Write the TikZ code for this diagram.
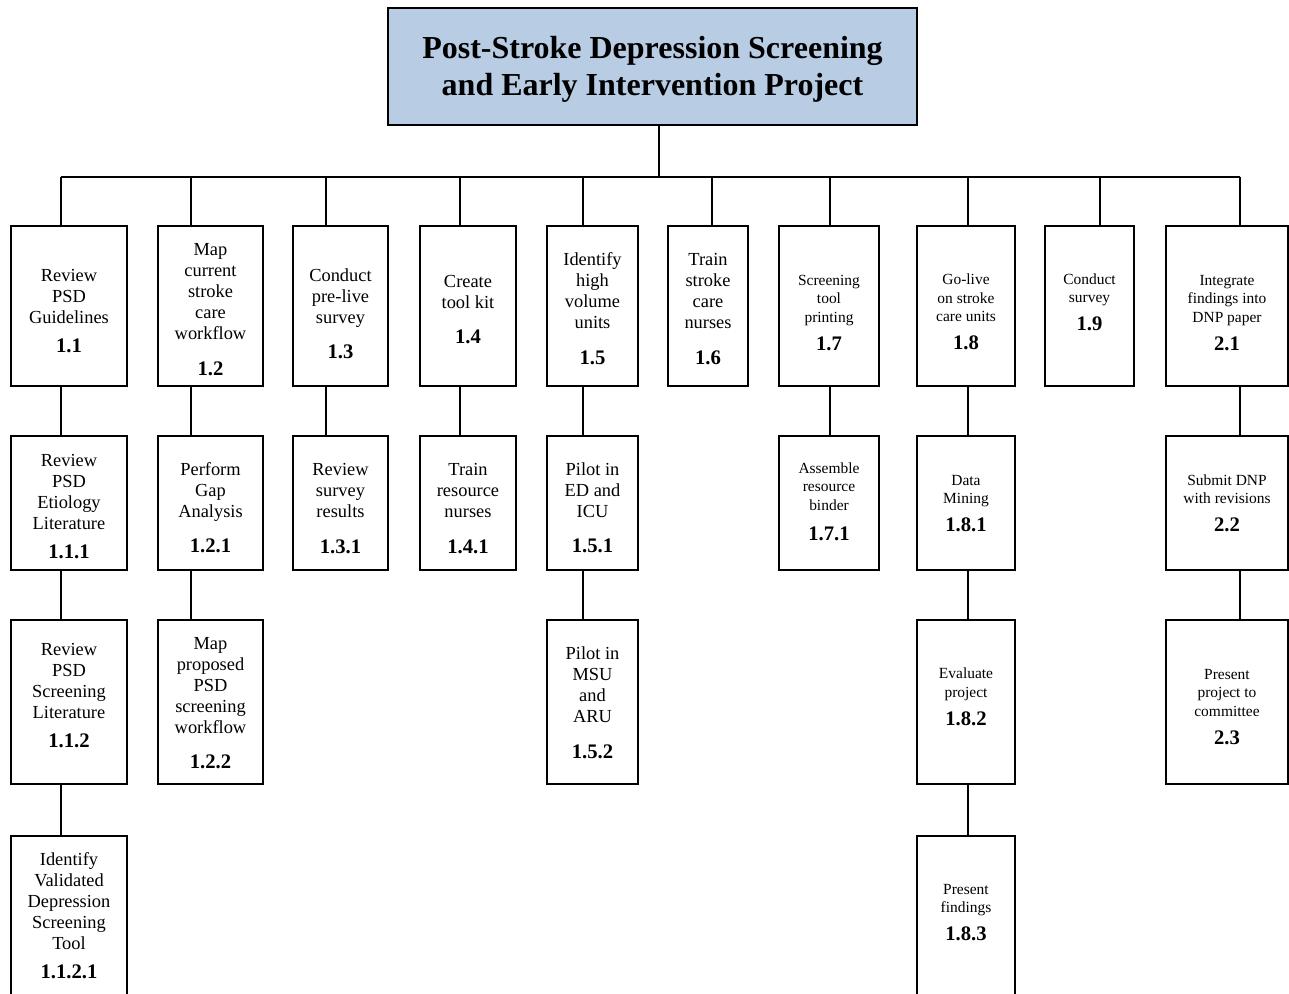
\documentclass[tikz,border=0pt]{standalone}
\usepackage{fontspec}
\setmainfont{Liberation Serif}
\definecolor{titleblue}{HTML}{B8CCE4}
\newdimen\wbspx \wbspx=0.75pt
\newcommand{\wbsnum}[1]{{\fontsize{15.5}{18}\selectfont\bfseries #1}}
\newcommand{\wbs}[2][0]{\raisebox{\dimexpr-0.25em-#1\wbspx\relax}[0pt][0pt]{\begin{tabular}{@{}c@{}}#2\end{tabular}}}

\begin{document}
\begin{tikzpicture}
[x=0.75pt,y=-0.75pt]
\tikzset{
	top/.style = {draw, line width=1.5pt, fill=titleblue, inner sep=0, minimum width=396.75pt, minimum height=87.75pt, font=\fontsize{24}{27.75}\selectfont\bfseries},
	task/.style = {draw, line width=1.5pt, inner sep=0, font=\fontsize{13.8}{15.75}\selectfont},
	small/.style = {task, font=\fontsize{11.6}{13.9}\selectfont},
	open/.style = {draw=none, outer sep=0},
	tier1/.style = {minimum height=120pt},
	tier2/.style = {minimum height=100.5pt},
	tier3/.style = {minimum height=123pt},
	tier4/.style = {minimum height=119.25pt}
}
\useasboundingbox (0,0) rectangle (1289,994);

\node(0) [top] at (652.5,66.5) {\wbs[3]{Post-Stroke Depression Screening\\and Early Intervention Project}};
\coordinate (bar) at (659,177);

\node(1-1) [task, tier1, minimum width=87pt] at (69,306) {\wbs[7.5]{Review\\PSD\\Guidelines\\[6pt]\wbsnum{1.1}}};
\node(1-2) [task, tier1, minimum width=78.75pt] at (210.5,306) {\wbs[5.5]{Map\\current\\stroke\\care\\workflow\\[11pt]\wbsnum{1.2}}};
\node(1-3) [task, tier1, minimum width=71.25pt] at (340.5,306) {\wbs[10]{Conduct\\pre-live\\survey\\[11pt]\wbsnum{1.3}}};
\node(1-4) [task, tier1, minimum width=72pt] at (468,306) {\wbs[5.5]{Create\\tool kit\\[11pt]\wbsnum{1.4}}};
\node(1-5) [task, tier1, minimum width=68.25pt] at (592.5,306) {\wbs[5]{Identify\\high\\volume\\units\\[11pt]\wbsnum{1.5}}};
\node(1-6) [task, tier1, minimum width=60pt] at (708,306) {\wbs[5]{Train\\stroke\\care\\nurses\\[11pt]\wbsnum{1.6}}};
\node(1-7) [small, tier1, minimum width=75pt] at (829,306) {\wbs[8]{Screening\\tool\\printing\\[6.5pt]\wbsnum{1.7}}};
\node(1-8) [small, tier1, minimum width=73.5pt] at (966,306) {\wbs[7.5]{Go-live\\on stroke\\care units\\[6.5pt]\wbsnum{1.8}}};
\node(1-9) [small, tier1, minimum width=66.75pt] at (1089.5,306) {\wbs[-2]{Conduct\\survey\\[6.5pt]\wbsnum{1.9}}};
\node(2-1) [small, tier1, minimum width=91.5pt] at (1227,306) {\wbs[8]{Integrate\\findings into\\DNP paper\\[6.5pt]\wbsnum{2.1}}};

\node(1-1-1) [task, tier2, minimum width=87pt] at (69,503) {\wbs[5.5]{Review\\PSD\\Etiology\\Literature\\[6pt]\wbsnum{1.1.1}}};
\node(1-2-1) [task, tier2, minimum width=78.75pt] at (210.5,503) {\wbs[7]{Perform\\Gap\\Analysis\\[11pt]\wbsnum{1.2.1}}};
\node(1-3-1) [task, tier2, minimum width=71.25pt] at (340.5,503) {\wbs[7.5]{Review\\survey\\results\\[11pt]\wbsnum{1.3.1}}};
\node(1-4-1) [task, tier2, minimum width=72pt] at (468,503) {\wbs[7.5]{Train\\resource\\nurses\\[11pt]\wbsnum{1.4.1}}};
\node(1-5-1) [task, tier2, minimum width=68.25pt] at (592.5,503) {\wbs[7]{Pilot in\\ED and\\ICU\\[11pt]\wbsnum{1.5.1}}};
\node(1-7-1) [small, tier2, minimum width=75pt] at (829,503) {\wbs[0]{Assemble\\resource\\binder\\[8pt]\wbsnum{1.7.1}}};
\node(1-8-1) [small, tier2, minimum width=73.5pt] at (966,503) {\wbs[2]{Data\\Mining\\[6.5pt]\wbsnum{1.8.1}}};
\node(2-2) [small, tier2, minimum width=91.5pt] at (1227,503) {\wbs[2]{Submit DNP\\with revisions\\[6.5pt]\wbsnum{2.2}}};

\node(1-1-2) [task, tier3, minimum width=87pt] at (69,702) {\wbs[-4.5]{Review\\PSD\\Screening\\Literature\\[6pt]\wbsnum{1.1.2}}};
\node(1-2-2) [task, tier3, minimum width=78.75pt] at (210.5,702) {\wbs[3]{Map\\proposed\\PSD\\screening\\workflow\\[11pt]\wbsnum{1.2.2}}};
\node(1-5-2) [task, tier3, minimum width=68.25pt] at (592.5,702) {\wbs[3]{Pilot in\\MSU\\and\\ARU\\[11pt]\wbsnum{1.5.2}}};
\node(1-8-2) [small, tier3, minimum width=73.5pt] at (966,702) {\wbs[-3.5]{Evaluate\\project\\[6.5pt]\wbsnum{1.8.2}}};
\node(2-3) [small, tier3, minimum width=91.5pt] at (1227,702) {\wbs[6]{Present\\project to\\committee\\[6.5pt]\wbsnum{2.3}}};

\node(1-1-2-1) [task, open, tier4, minimum width=87pt] at (69,915.5) {\wbs[2]{Identify\\Validated\\Depression\\Screening\\Tool\\[6pt]\wbsnum{1.1.2.1}}};
\node(1-8-3) [small, open, tier4, minimum width=73.5pt] at (966,915.5) {\wbs[-1.5]{Present\\findings\\[6.5pt]\wbsnum{1.8.3}}};

\foreach \a in {1-1-2-1, 1-8-3}
	\draw [line width=1.5pt] (\a.south west) -- (\a.north west) -- (\a.north east) -- (\a.south east);

\draw [line width=1.5pt] (bar |- 0.south) -- (bar);
\draw [line width=1.5pt] (bar -| 61,0) -- (bar -| 1240,0);
\foreach \a/\x in {1-1/61, 1-2/191, 1-3/326, 1-4/460, 1-5/583, 1-6/712, 1-7/830, 1-8/968, 1-9/1100, 2-1/1240}
	\draw [line width=1.5pt] (bar -| \x,0) -- (\a.north -| \x,0);
\foreach \a/\b/\x in {1-1/1-1-1/61, 1-1-1/1-1-2/61, 1-1-2/1-1-2-1/61, 1-2/1-2-1/191, 1-2-1/1-2-2/191, 1-3/1-3-1/326, 1-4/1-4-1/460, 1-5/1-5-1/583, 1-5-1/1-5-2/583, 1-7/1-7-1/830, 1-8/1-8-1/968, 1-8-1/1-8-2/968, 1-8-2/1-8-3/968, 2-1/2-2/1240, 2-2/2-3/1240}
	\draw [line width=1.5pt] (\a.south -| \x,0) -- (\b.north -| \x,0);

\end{tikzpicture}
\end{document}
